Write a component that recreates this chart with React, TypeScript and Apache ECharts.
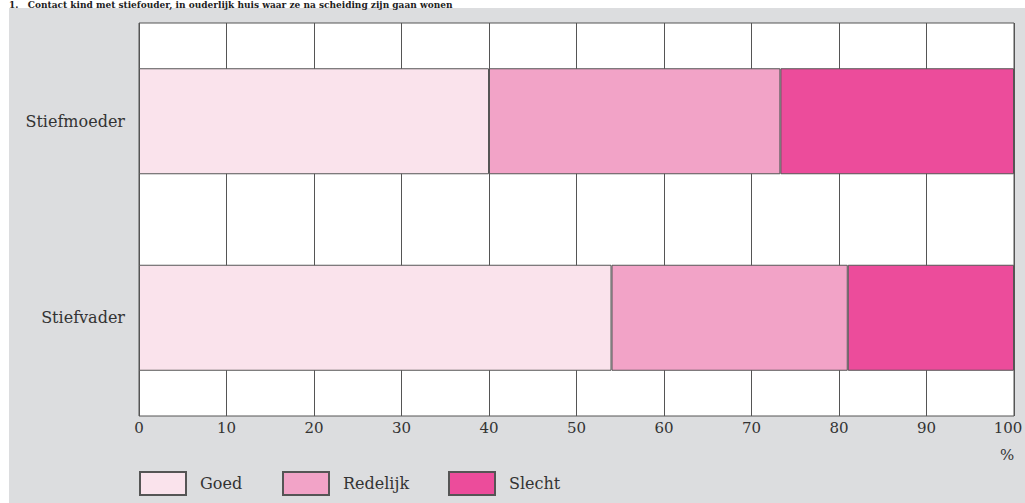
import React, { useEffect, useRef } from "react";
import * as echarts from "echarts";

const titleText = "1.   Contact kind met stiefouder, in ouderlijk huis waar ze na scheiding zijn gaan wonen";
const categories = ["Stiefvader", "Stiefmoeder"];
const seriesNames = ["Goed", "Redelijk", "Slecht"];
const goed = [54, 40];
const redelijk = [27, 33.3];
const slecht = [19, 26.7];
const colors = ["#FAE3EC", "#F2A3C7", "#EC4C9B"];
const xTicks = { min: 0, max: 100, interval: 10 };
const unitLabel = "%";

const FONT = "DejaVu Serif";

export default function App() {
  const ref = useRef<HTMLDivElement>(null);
  useEffect(() => {
    if (!ref.current) return;
    const chart = echarts.init(ref.current, undefined, { renderer: "svg" });
    const values = [goed, redelijk, slecht];
    const legendLeft = [139, 282, 448];
    chart.setOption({
      animation: false,
      backgroundColor: "#ffffff",
      graphic: [
        {
          type: "rect",
          z: -10,
          silent: true,
          shape: { x: 9, y: 8, width: 1016, height: 495 },
          style: { fill: "#DCDDDF" },
        },
        {
          type: "text",
          z: 10,
          x: 9,
          y: 0,
          style: {
            text: titleText,
            font: `bold 9px ${FONT}`,
            fill: "#222",
            verticalAlign: "top",
          },
        },
        {
          type: "text",
          x: 1008,
          y: 420,
          style: {
            text: String(xTicks.max),
            font: `15px ${FONT}`,
            fill: "#333",
            align: "center",
            verticalAlign: "top",
          },
        },
        {
          type: "text",
          x: 1007,
          y: 455,
          style: {
            text: unitLabel,
            font: `15px ${FONT}`,
            fill: "#333",
            align: "center",
            verticalAlign: "middle",
          },
        },
      ],
      grid: {
        left: 139,
        right: 11,
        top: 23,
        bottom: 87,
        outerBoundsMode: "none",
        containLabel: false,
        show: true,
        backgroundColor: "#ffffff",
        borderColor: "#555555",
        borderWidth: 1,
      },
      xAxis: {
        type: "value",
        min: xTicks.min,
        max: xTicks.max,
        interval: xTicks.interval,
        axisLine: { show: false },
        axisTick: { show: false },
        splitLine: { show: true, lineStyle: { color: "#555555", width: 1 } },
        axisLabel: {
          color: "#333",
          fontFamily: FONT,
          fontSize: 15,
          margin: 4,
          showMaxLabel: false,
        },
      },
      yAxis: {
        type: "category",
        data: categories,
        axisLine: { show: false },
        axisTick: { show: false },
        splitLine: { show: false },
        axisLabel: { color: "#333", fontFamily: FONT, fontSize: 16, margin: 14 },
      },
      legend: seriesNames.map((name, i) => ({
        data: [name],
        left: legendLeft[i],
        top: 471,
        padding: 0,
        itemWidth: 46,
        itemHeight: 23,
        icon: "rect",
        selectedMode: false,
        textStyle: {
          color: "#333",
          fontFamily: FONT,
          fontSize: 16,
          padding: [12, 0, 0, 9],
        },
      })),
      series: seriesNames.map((name, i) => ({
        name,
        type: "bar",
        stack: "total",
        barWidth: 106,
        data: values[i],
        itemStyle: {
          color: colors[i],
          borderColor: "#555555",
          borderWidth: 1,
        },
      })),
    });
    return () => chart.dispose();
  }, []);
  return (
    <div
      ref={ref}
      style={{ position: "fixed", left: 0, top: 0, width: 1025, height: 503 }}
    />
  );
}
